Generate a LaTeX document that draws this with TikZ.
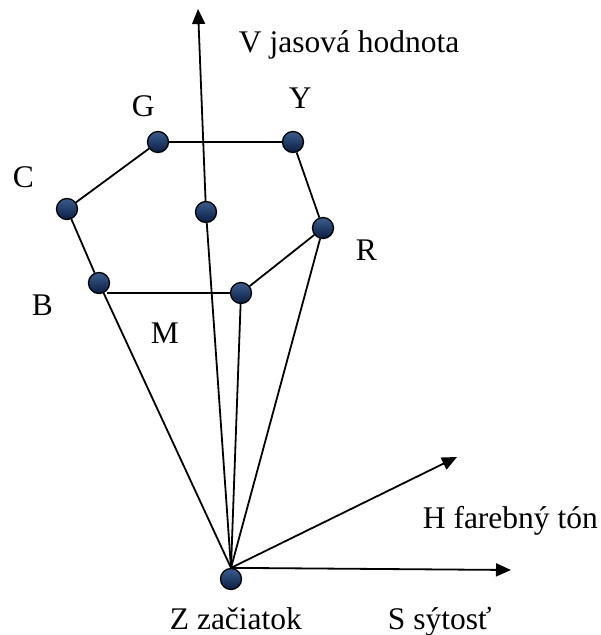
\documentclass[tikz,border=0pt]{standalone}
\usepackage{fontspec}
\setmainfont{Liberation Serif}
\usetikzlibrary{arrows.meta}

\definecolor{ballhi}{RGB}{58,92,140}
\definecolor{balllo}{RGB}{10,30,68}

\tikzset{
	ball/.style={circle, draw=black, line width=1.3pt, minimum size=21pt, inner sep=0pt,
		top color=ballhi, bottom color=balllo},
	lbl/.style={anchor=base west, inner sep=0pt, font=\fontsize{31.5}{38}\selectfont},
	axis/.style={line width=1.8pt, -{Triangle[length=15pt,width=13pt]}}
}

\begin{document}
\begin{tikzpicture}[x=1pt, y=-1pt, line width=1.8pt]

	\useasboundingbox (0,0) rectangle (601,635);

	\node[ball] (G) at (158,142) {};
	\node[ball] (Y) at (293,142) {};
	\node[ball] (C) at (67,209) {};
	\node[ball] (W) at (206,212) {};
	\node[ball] (R) at (323,228) {};
	\node[ball] (B) at (99,283) {};
	\node[ball] (M) at (241,293) {};
	\node[ball] (Z) at (231,579) {};

	\coordinate (Vtip) at (198,9);
	\coordinate (Htip) at (457,457);
	\coordinate (Stip) at (511,570);

	\draw (G) -- (Y);
	\draw (G) -- (C);
	\draw (C) -- (B);
	\draw (B.south east |- M) -- (M);
	\draw (M) -- (R);
	\draw (Y) -- (R);
	\draw (B) -- (Z.north);
	\draw (M) -- (Z.north);
	\draw (R) -- (Z.north);

	\draw[axis] (Z.north) -- (W) -- (Vtip);
	\draw[axis] (Z.north) -- (Htip);
	\draw[axis] (Z.north) -- (Stip);

	\node[lbl] (lblV) at (238,52) {V jasová hodnota};
	\node[lbl] (lblG) at (131,116) {G};
	\node[lbl] (lblY) at (288,108) {Y};
	\node[lbl] (lblC) at (12,187) {C};
	\node[lbl] (lblR) at (355,260) {R};
	\node[lbl] (lblB) at (31,315) {B};
	\node[lbl] (lblM) at (150,343) {M};
	\node[lbl] (lblH) at (422,528) {H farebný tón};
	\node[lbl] (lblZ) at (169,629) {Z začiatok};
	\node[lbl] (lblS) at (387,629) {S sýtosť};

\end{tikzpicture}
\end{document}
